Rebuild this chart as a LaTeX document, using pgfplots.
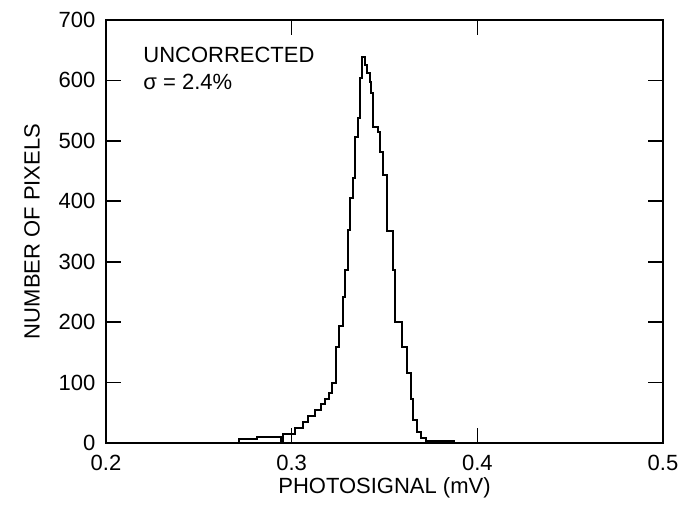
\documentclass[border=0pt]{standalone}
\usepackage{fontspec}
\setmainfont{Liberation Sans}
\usepackage{pgfplots}
\pgfplotsset{compat=1.18}
\usetikzlibrary{calc}
\begin{document}
\begin{tikzpicture}
\begin{axis}[
  name=ax,
  scale only axis,
  width=278.5pt, height=211.5pt,
  xmin=0.2, xmax=0.5, ymin=0, ymax=700,
  xtick={0.2,0.3,0.4,0.5},
  ytick={0,100,200,300,400,500,600,700},
  tick align=inside,
  major tick length=7.5pt,
  tick style={line width=0.8pt, black},
  axis line style={line width=1pt},
  /pgf/number format/assume math mode=true,
  tick label style={font=\fontsize{11}{13}\selectfont},
  xticklabel style={/pgf/number format/fixed, /pgf/number format/precision=1, /pgf/number format/fixed zerofill, yshift=-2.3pt},
  yticklabel style={xshift=-1.8pt},
  label style={font=\fontsize{11}{13}\selectfont},
  xlabel={PHOTOSIGNAL (mV)},
  ylabel={NUMBER OF PIXELS},
  xlabel style={at={(axis description cs:0.5,-0.1064)}, anchor=center},
  ylabel style={at={(axis description cs:-0.1329,0.5)}, anchor=center},
]
\addplot[const plot, line width=1pt, black] coordinates {
(0.200,0)
(0.2716,6)
(0.2813,10)
(0.2940,0)
(0.2955,15)
(0.3018,25)
(0.3062,35)
(0.3089,44)
(0.3125,55)
(0.3158,65)
(0.3180,72)
(0.3202,83)
(0.3215,99)
(0.3239,159)
(0.3256,193)
(0.3274,242)
(0.3287,286)
(0.3305,353)
(0.3314,406)
(0.3333,439)
(0.3341,507)
(0.3355,538)
(0.3368,604)
(0.3377,638)
(0.3395,626)
(0.3407,612)
(0.3422,598)
(0.3427,579)
(0.3440,523)
(0.3465,515)
(0.3476,482)
(0.3492,443)
(0.3515,350)
(0.3547,286)
(0.3556,201)
(0.3592,159)
(0.3619,116)
(0.3642,72)
(0.3655,38)
(0.3673,18)
(0.3695,8)
(0.3723,4)
(0.3788,3)
(0.3874,0)
(0.500,0)
};
\node[anchor=north west, inner sep=0pt, align=left, font=\fontsize{11}{13.5}\selectfont]
  at (axis description cs:0.0664,0.936) {UNCORRECTED\\σ = 2.4\%};
\end{axis}
\pgfresetboundingbox
\path[use as bounding box] ($(ax.south west)+(-53pt,-34.5pt)$) rectangle ($(ax.north east)+(16pt,10pt)$);
\end{tikzpicture}
\end{document}
